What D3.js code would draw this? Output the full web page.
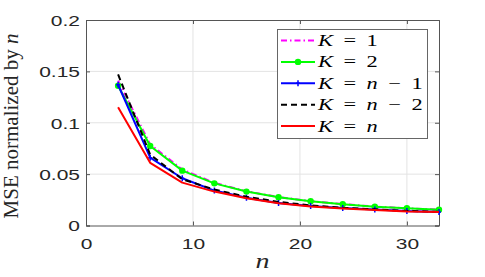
<!DOCTYPE html>
<html>
<head>
<meta charset="utf-8">
<script src="https://cdn.jsdelivr.net/npm/d3@7"></script>
<style>
  body { margin: 0; background: #fff; }
  svg { display: block; }
</style>
</head>
<body>
<svg id="chart"></svg>
<script>
// values
const nValues = [3, 6, 9, 12, 15, 18, 21, 24, 27, 30, 33];
const mseK1 = [0.141, 0.079, 0.0545, 0.0415, 0.0333, 0.0277, 0.0237, 0.0208, 0.0184, 0.0168, 0.0155];
const mseK2 = [0.136, 0.0774, 0.0534, 0.041, 0.033, 0.0275, 0.0236, 0.0207, 0.0183, 0.0168, 0.0154];
const mseKn1 = [0.137, 0.066, 0.046, 0.034, 0.027, 0.022, 0.019, 0.017, 0.0155, 0.014, 0.0132];
const mseKn2 = [0.147, 0.069, 0.045, 0.035, 0.028, 0.023, 0.0195, 0.0172, 0.0157, 0.0142, 0.0133];
const mseKn = [0.115, 0.061, 0.0417, 0.033, 0.0265, 0.0216, 0.0185, 0.0165, 0.015, 0.0137, 0.0131];
const xTicks = [0, 10, 20, 30];
const yTicks = [0, 0.05, 0.1, 0.15, 0.2];
const yTickLabels = ["0", "0.05", "0.1", "0.15", "0.2"];
// legend labels as tokens: [text, italic?]
const legendLabels = [
  [["K", true], ["=", false], ["1", false]],
  [["K", true], ["=", false], ["2", false]],
  [["K", true], ["=", false], ["n", true], ["\u2212", false], ["1", false]],
  [["K", true], ["=", false], ["n", true], ["\u2212", false], ["2", false]],
  [["K", true], ["=", false], ["n", true]]
];

const series = [
  { values: mseK1, color: "#ff00ff", dash: "6,3,1.5,3", marker: null },
  { values: mseK2, color: "#00ff00", dash: null, marker: "circle" },
  { values: mseKn1, color: "#0000ff", dash: null, marker: "plus" },
  { values: mseKn2, color: "#000000", dash: "6,4", marker: null },
  { values: mseKn, color: "#ff0000", dash: null, marker: null }
];

const svgWidth = 485, svgHeight = 277;
const margin = { top: 20, right: 46, bottom: 51.5, left: 86 };
const width = svgWidth - margin.left - margin.right,
      height = svgHeight - margin.top - margin.bottom;
const sx = 1.4; // the figure is horizontally stretched

const svg = d3.select("#chart")
  .attr("width", svgWidth)
  .attr("height", svgHeight);
const g = svg.append("g")
  .attr("transform", "translate(" + margin.left + "," + margin.top + ")");

const x = d3.scaleLinear().domain([0, 33]).range([0, width]);
const y = d3.scaleLinear().domain([0, 0.2]).range([height, 0]);

// grid
g.append("g").selectAll("line").data(xTicks.slice(1)).join("line")
  .attr("x1", d => x(d)).attr("x2", d => x(d))
  .attr("y1", 0).attr("y2", height)
  .attr("stroke", "#e3e3e3").attr("stroke-width", 1);
g.append("g").selectAll("line").data(yTicks.slice(1, -1)).join("line")
  .attr("x1", 0).attr("x2", width)
  .attr("y1", d => y(d)).attr("y2", d => y(d))
  .attr("stroke", "#e3e3e3").attr("stroke-width", 1);

// axes with inward ticks
const axisColor = "#555";
const xAxis = g.append("g")
  .attr("transform", "translate(0," + height + ")")
  .call(d3.axisBottom(x).tickValues(xTicks).tickSize(-4).tickPadding(0).tickFormat(d3.format("d")));
const yAxis = g.append("g")
  .call(d3.axisLeft(y).tickValues(yTicks).tickSize(-4).tickPadding(0)
    .tickFormat((d, i) => yTickLabels[i]));
g.append("g").call(d3.axisTop(x).tickValues(xTicks).tickSize(-4).tickFormat(""));
g.append("g").attr("transform", "translate(" + width + ",0)")
  .call(d3.axisRight(y).tickValues(yTicks).tickSize(-4).tickFormat(""));

g.selectAll(".domain, .tick line").attr("stroke", axisColor);
g.selectAll(".tick text")
  .attr("fill", "#262626")
  .style("font-family", "'Liberation Sans', Arial, sans-serif")
  .style("font-size", "15px");
xAxis.selectAll(".tick text")
  .attr("y", 0).attr("dy", 0)
  .attr("transform", "translate(0,23) scale(" + sx + ",1)");
yAxis.selectAll(".tick text")
  .attr("x", 0).attr("dy", "0.35em")
  .attr("transform", "translate(-6,0) scale(" + sx + ",1)");

// series lines
const line = d3.line()
  .x((d, i) => x(nValues[i]))
  .y(d => y(d));

series.forEach(s => {
  g.append("path")
    .datum(s.values)
    .attr("fill", "none")
    .attr("stroke", s.color)
    .attr("stroke-width", 2)
    .attr("stroke-linejoin", "round")
    .attr("stroke-dasharray", s.dash)
    .attr("d", line);
  if (s.marker === "circle") {
    g.append("g").selectAll("circle").data(s.values).join("circle")
      .attr("cx", (d, i) => x(nValues[i]))
      .attr("cy", d => y(d))
      .attr("r", 3.2)
      .attr("fill", s.color);
  } else if (s.marker === "plus") {
    g.append("g").selectAll("path").data(s.values).join("path")
      .attr("d", (d, i) => {
        const px = x(nValues[i]), py = y(d);
        return "M" + (px - 2) + "," + py + "H" + (px + 2) + "M" + px + "," + (py - 3) + "V" + (py + 3);
      })
      .attr("stroke", s.color)
      .attr("stroke-width", 1.5);
  }
});

// legend
const legend = svg.append("g").attr("transform", "translate(277,29)");
legend.append("rect")
  .attr("x", 0.5).attr("y", 0.5)
  .attr("width", 150).attr("height", 109)
  .attr("fill", "#fff")
  .attr("stroke", "#666").attr("stroke-width", 1);

series.forEach((s, i) => {
  const row = legend.append("g").attr("transform", "translate(0," + (11.5 + i * 21.4) + ")");
  row.append("line")
    .attr("x1", 4).attr("x2", 38)
    .attr("stroke", s.color).attr("stroke-width", 2)
    .attr("stroke-dasharray", s.dash);
  if (s.marker === "circle") {
    row.append("circle").attr("cx", 21).attr("r", 3.2).attr("fill", s.color);
  } else if (s.marker === "plus") {
    row.append("path").attr("d", "M19,0H23M21,-3V3")
      .attr("stroke", s.color).attr("stroke-width", 1.5);
  }
  const t = row.append("text")
    .attr("transform", "translate(41,5.5) scale(" + sx + ",1)")
    .attr("fill", "#000")
    .style("font-family", "'Liberation Serif', 'Times New Roman', serif")
    .style("font-size", "16px");
  legendLabels[i].forEach((tok, j) => {
    t.append("tspan")
      .attr("dx", j === 0 ? 0 : 7.5)
      .style("font-style", tok[1] ? "italic" : "normal")
      .text(tok[0]);
  });
});

// axis labels
svg.append("text")
  .attr("transform", "translate(18,126) rotate(-90)")
  .attr("text-anchor", "middle")
  .attr("fill", "#262626")
  .style("font-family", "'Liberation Serif', 'Times New Roman', serif")
  .style("font-size", "21px")
  .html('MSE normalized by <tspan font-style="italic">n</tspan>');

svg.append("text")
  .attr("transform", "translate(" + (margin.left + x(16.5)) + ",268) scale(" + sx + ",1)")
  .attr("text-anchor", "middle")
  .attr("fill", "#262626")
  .style("font-family", "'Liberation Serif', 'Times New Roman', serif")
  .style("font-size", "20px")
  .style("font-style", "italic")
  .text("n");
</script>
</body>
</html>
